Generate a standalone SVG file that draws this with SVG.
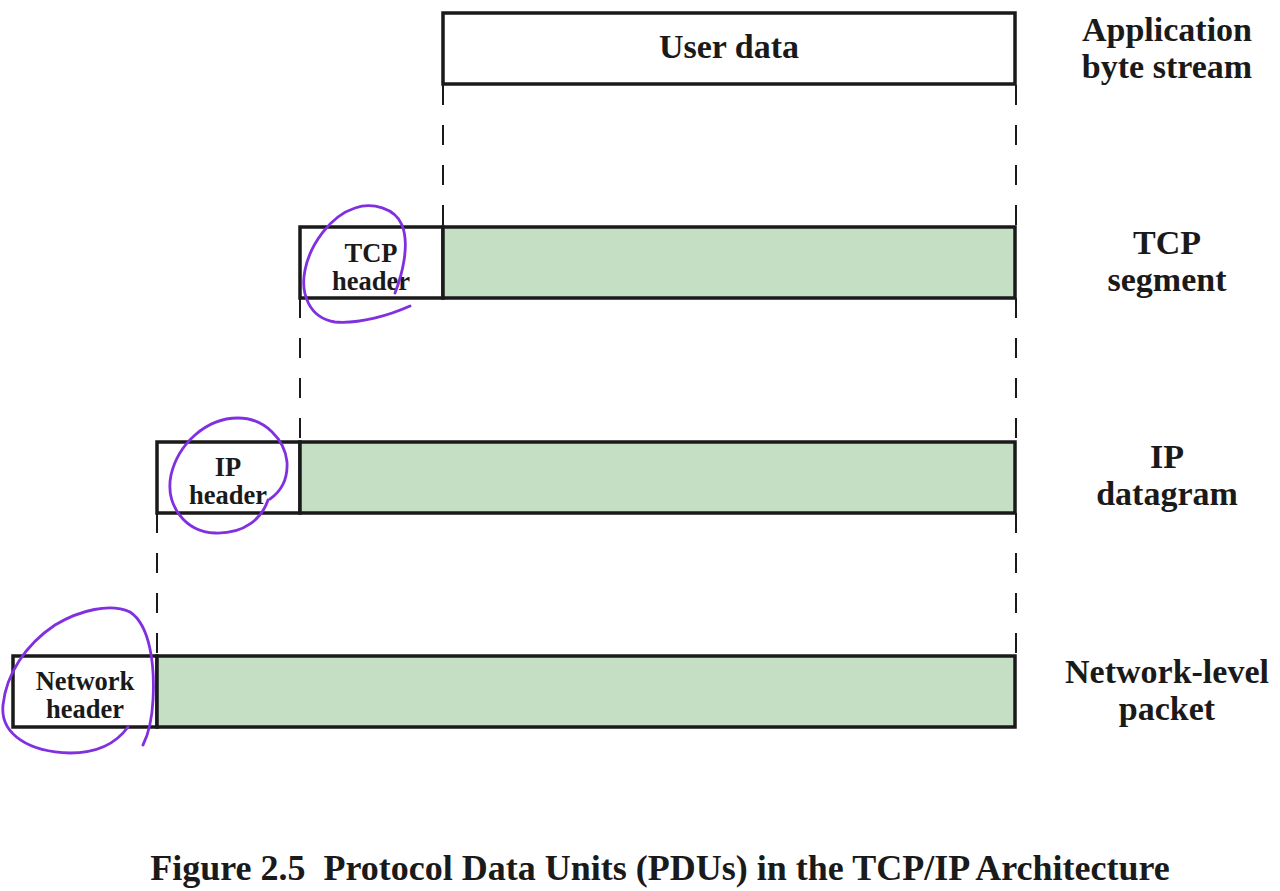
<svg xmlns="http://www.w3.org/2000/svg" width="1280" height="891" viewBox="0 0 1280 891">
<style>
.box{fill:#ffffff;stroke:#1a1a1a;stroke-width:3.5}
.pay{fill:#c5dfc5;stroke:#1a1a1a;stroke-width:3.5}
.dash{stroke:#1a1a1a;stroke-width:2;stroke-dasharray:20 20;fill:none}
.t{font-family:"Liberation Serif","Times New Roman",serif;font-weight:bold;fill:#1a1a1a;text-anchor:middle}
.big{font-size:34px}
.sm{font-size:26.5px}
.cap{font-size:36px}
.ink{fill:none;stroke:#8030e0;stroke-width:2.8;stroke-linecap:round;stroke-linejoin:round}
</style>
<rect width="1280" height="891" fill="#ffffff"/>
<g id="connectors">
<line class="dash" x1="443" y1="85" x2="443" y2="227"/>
<line class="dash" x1="1016" y1="85" x2="1016" y2="227"/>
<line class="dash" x1="300" y1="298" x2="300" y2="442"/>
<line class="dash" x1="1016" y1="298" x2="1016" y2="442"/>
<line class="dash" x1="157" y1="513" x2="157" y2="656"/>
<line class="dash" x1="1016" y1="513" x2="1016" y2="656"/>
</g>
<g id="user-data">
<rect class="box" x="443" y="13" width="572" height="71"/>
<text class="t big" x="729" y="58">User data</text>
</g>
<g id="tcp-segment">
<rect class="box" x="300" y="227" width="143" height="71"/>
<rect class="pay" x="443" y="227" width="572" height="71"/>
<text class="t sm" x="371" y="262">TCP</text>
<text class="t sm" x="371" y="290">header</text>
</g>
<g id="ip-datagram">
<rect class="box" x="157" y="442" width="143" height="71"/>
<rect class="pay" x="300" y="442" width="715" height="71"/>
<text class="t sm" x="228" y="476">IP</text>
<text class="t sm" x="228" y="504">header</text>
</g>
<g id="network-packet">
<rect class="box" x="13" y="656" width="144" height="71"/>
<rect class="pay" x="157" y="656" width="858" height="71"/>
<text class="t sm" x="85" y="690">Network</text>
<text class="t sm" x="85" y="718">header</text>
</g>
<g id="layer-labels">
<text class="t big" x="1167" y="41">Application</text>
<text class="t big" x="1167" y="78">byte stream</text>
<text class="t big" x="1167" y="254">TCP</text>
<text class="t big" x="1167" y="291">segment</text>
<text class="t big" x="1167" y="468">IP</text>
<text class="t big" x="1167" y="505">datagram</text>
<text class="t big" x="1167" y="683">Network-level</text>
<text class="t big" x="1167" y="720">packet</text>
</g>
<g id="annotations">
<path class="ink" d="M395,293 C402,275 410,245 402,225 C395,208 372,202 355,208 C330,216 310,245 305,270 C300,295 310,318 335,322 C360,324 390,315 410,306"/>
<path class="ink" d="M270,499 C280,492 288,480 287,462 C285,440 265,418 238,418 C205,418 178,445 171,475 C165,505 185,532 215,533 C245,534 262,518 268,500"/>
<path class="ink" d="M128,727 C115,745 95,753 70,753 C30,752 0,735 3,705 C6,675 25,645 55,625 C80,610 110,603 130,612 C150,625 155,665 153,700 C152,720 148,735 143,745"/>
</g>
<text class="t cap" x="660" y="880" xml:space="preserve">Figure 2.5  Protocol Data Units (PDUs) in the TCP/IP Architecture</text>
</svg>
